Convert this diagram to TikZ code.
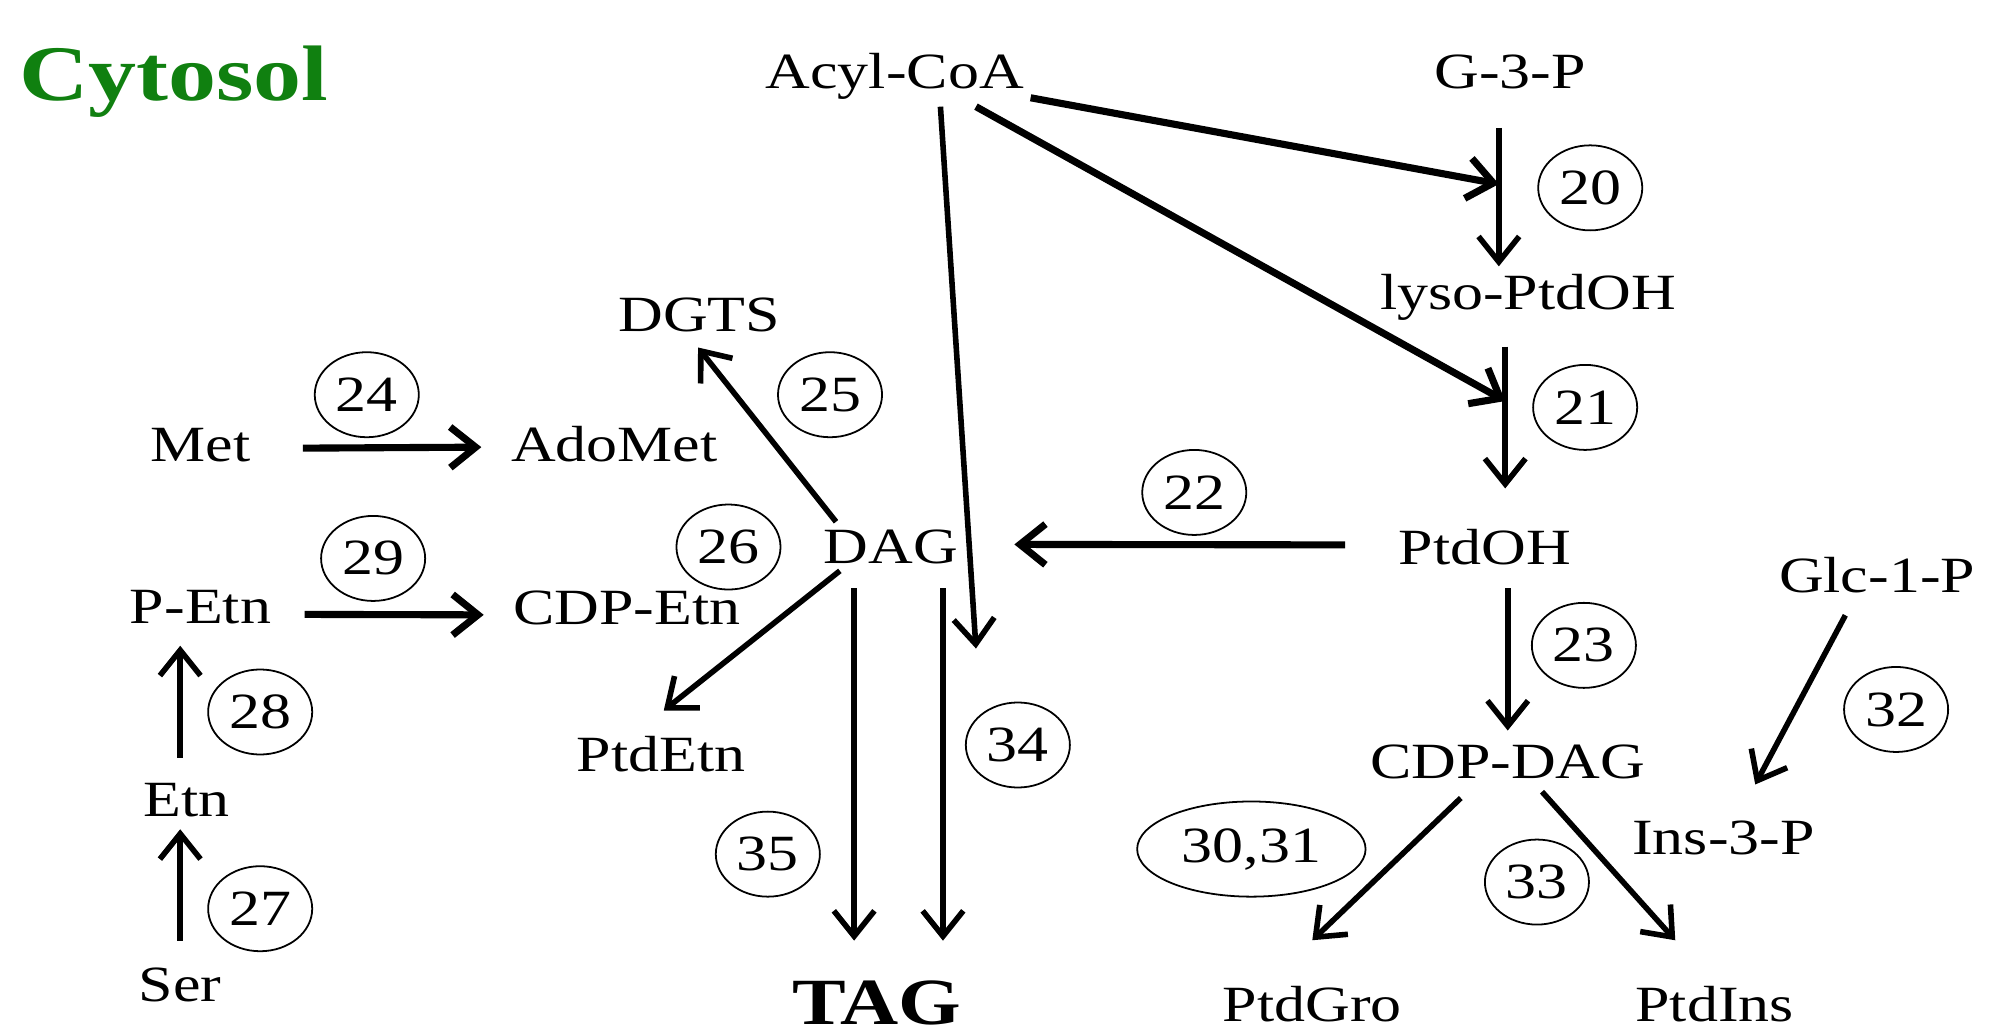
\documentclass[tikz,border=0pt]{standalone}
\usepackage{fontspec}
\setmainfont{Liberation Serif}[FakeStretch=1.22]
\usetikzlibrary{arrows.meta,shapes.geometric}
\definecolor{cytgreen}{RGB}{16,128,16}
\begin{document}
\begin{tikzpicture}
  [x=0.5pt,y=-0.5pt,every node/.style={inner sep=0pt,font=\fontsize{20}{24}\selectfont},
   num/.style={draw,ellipse,line width=0.7pt,minimum width=41pt,minimum height=33.5pt},
   rx/.style={-{Straight Barb[length=10pt,width=16pt]},line width=2.2pt},
   rxb/.style={rx,line width=2.8pt}]
  \useasboundingbox (0,0) rectangle (1568,816);
  \node[anchor=base,text=cytgreen,font=\bfseries\fontsize{31}{36}\selectfont] (cyt) at (137,79) {Cytosol};
  % metabolites
  \node[anchor=base] (acyl) at (705,70) {Acyl-CoA};
  \node[anchor=base] (g3p) at (1190,70) {G-3-P};
  \node[anchor=base] (lyso) at (1204,244) {lyso-PtdOH};
  \node[anchor=base] (dgts) at (551,261) {DGTS};
  \node[anchor=base] (met) at (158,364) {Met};
  \node[anchor=base] (adomet) at (484,364) {AdoMet};
  \node[anchor=base] (dag) at (702,444) {DAG};
  \node[anchor=base] (ptdoh) at (1170,445) {PtdOH};
  \node[anchor=base] (glc) at (1479,467) {Glc-1-P};
  \node[anchor=base] (petn) at (158,491) {P-Etn};
  \node[anchor=base] (cdpetn) at (494,492) {CDP-Etn};
  \node[anchor=base] (ptdetn) at (521,608) {PtdEtn};
  \node[anchor=base] (cdpdag) at (1188,613.5) {CDP-DAG};
  \node[anchor=base] (etn) at (147,643) {Etn};
  \node[anchor=base] (ins) at (1358,673) {Ins-3-P};
  \node[anchor=base] (ser) at (142,789) {Ser};
  \node[anchor=base,font=\bfseries\fontsize{26}{30}\selectfont] (tag) at (691,807.5) {TAG};
  \node[anchor=base] (ptdgro) at (1034,805) {PtdGro};
  \node[anchor=base] (ptdins) at (1351,805) {PtdIns};
  % enzyme numbers
  \node[num] (e20) at (1253,148) {20};
  \node[num] (e21) at (1249,321) {21};
  \node[num] (e22) at (941,388) {22};
  \node[num] (e23) at (1248,508.5) {23};
  \node[num] (e24) at (289,311) {24};
  \node[num] (e25) at (654,311) {25};
  \node[num] (e26) at (574,431) {26};
  \node[num] (e27) at (205,716) {27};
  \node[num] (e28) at (205,561) {28};
  \node[num] (e29) at (294,440) {29};
  \node[num,minimum width=90pt,minimum height=37.5pt] (e30) at (986,669) {30,31};
  \node[num] (e32) at (1494,559) {32};
  \node[num] (e33) at (1211,695) {33};
  \node[num] (e34) at (802,587) {34};
  \node[num] (e35) at (605,673) {35};
  \coordinate (j20) at (1181,145);
  \coordinate (j21) at (1186,316);
  \coordinate (j34) at (769,511);
  % reactions
  \draw[rxb] ([shift={(5,-2)}]acyl.south east) -- (j20);
  \draw[rxb] ([shift={(64,5)}]acyl.south) -- (j21);
  \draw[rx] ([shift={(36,5)}]acyl.south) -- (j34);
  \draw[rx,shorten <=15pt,shorten >=3pt] (g3p.south -| j20) -- (lyso.north -| j20);
  \draw[rx,shorten <=10pt,shorten >=16pt] (lyso.south -| j21) -- (ptdoh.north -| j21);
  \draw[rx,shorten <=8.8pt,shorten >=5.5pt] (ptdoh.south -| cdpdag.north) -- (cdpdag.north);
  \draw[rxb] ([shift={(-42,-2)}]ptdoh.west) -- ([shift={(44,-2)}]dag.east);
  \draw[rx] ([shift={(10,-6)}]dag.north west) -- ([shift={(-1,12)}]dgts.south);
  \draw[rx] ([shift={(13,5)}]dag.south west) -- ([shift={(2,-20)}]ptdetn.north);
  \draw[rx] ([shift={(-29,18.6)}]dag.south) -- ([shift={(-18,-31.5)}]tag.north);
  \draw[rx] ([shift={(41,18.6)}]dag.south) -- ([shift={(52,-31.5)}]tag.north);
  \draw[rxb] ([shift={(41,2)}]met.east) -- ([shift={(-23,2)}]adomet.west);
  \draw[rxb] ([shift={(26,6)}]petn.east) -- ([shift={(-23,5.5)}]cdpetn.west);
  \draw[rx] ([shift={(-5,-19.5)}]etn.north) -- ([shift={(-16,17)}]petn.south);
  \draw[rx] ([shift={(0,-21)}]ser.north) -- ([shift={(-5,9.6)}]etn.south);
  \draw[rx] ([shift={(-25,17)}]glc.south) -- ([shift={(25,-28)}]ins.north);
  \draw[rx] ([shift={(-37,14.5)}]cdpdag.south) -- ([shift={(0,-36)}]ptdgro.north);
  \draw[rx] ([shift={(27,9.5)}]cdpdag.south) -- ([shift={(-31,-36)}]ptdins.north);
\end{tikzpicture}
\end{document}
